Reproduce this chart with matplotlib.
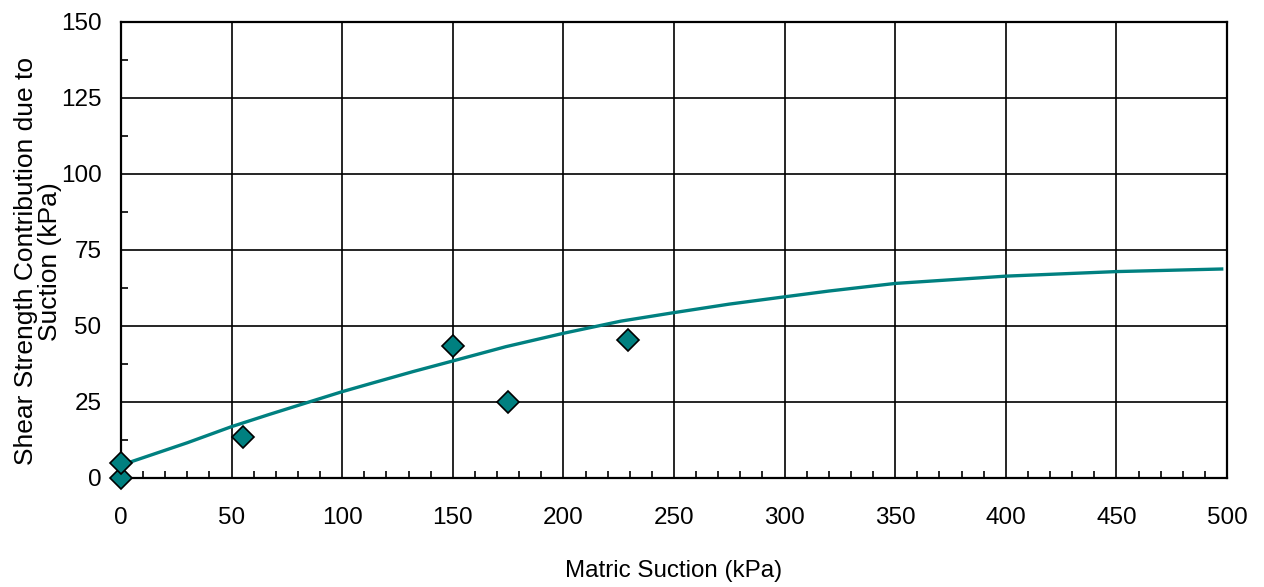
import matplotlib
matplotlib.use("Agg")
import matplotlib.pyplot as plt
from matplotlib.ticker import MultipleLocator

plt.rcParams['font.family'] = ['Liberation Sans', 'DejaVu Sans']

# Measured data points
meas_x = [0, 0, 55, 150, 175, 229]
meas_y = [0, 5, 13.5, 43.5, 25, 45.5]

# Fitted curve
curve_x = [4.8, 30, 50, 67, 85, 100, 113, 132, 150, 174, 200, 226, 250, 275,
           300, 320, 350, 400, 450, 497.6]
curve_y = [5.4, 11.6, 16.9, 20.9, 25.0, 28.4, 31.1, 35.0, 38.5, 43.2, 47.6,
           51.6, 54.4, 57.2, 59.6, 61.5, 64.0, 66.4, 67.9, 68.75]

x_ticks = [0, 50, 100, 150, 200, 250, 300, 350, 400, 450, 500]
y_ticks = [0, 25, 50, 75, 100, 125, 150]

teal = '#008080'

fig = plt.figure(figsize=(12.64, 5.87), dpi=100)
ax = fig.add_axes([121/1264, 1 - 478/587, (1227-121)/1264, (478-22)/587])

ax.plot(curve_x, curve_y, color=teal, lw=2.4, zorder=3, clip_on=False,
        solid_joinstyle='round')
ax.plot(meas_x, meas_y, linestyle='none', marker='D', markersize=11,
        markerfacecolor=teal, markeredgecolor='black', markeredgewidth=1.2,
        zorder=4, clip_on=False)

ax.set_xlim(0, 500)
ax.set_ylim(0, 150)
ax.set_xticks(x_ticks)
ax.set_yticks(y_ticks)
ax.xaxis.set_minor_locator(MultipleLocator(10))
ax.yaxis.set_minor_locator(MultipleLocator(12.5))

ax.grid(True, which='major', color='black', lw=1.2)
ax.set_axisbelow(True)
for s in ax.spines.values():
    s.set_linewidth(1.6)
    s.set_color('black')

ax.tick_params(which='major', direction='in', length=0, labelsize=17.5)
ax.tick_params(axis='x', which='major', pad=21)
ax.tick_params(axis='y', which='major', pad=14)
ax.tick_params(which='minor', direction='in', length=5, width=1.2, color='black')

ax.set_xlabel('Matric Suction (kPa)', fontsize=17.4, labelpad=22)
ax.set_ylabel('Shear Strength Contribution due to\nSuction (kPa)', fontsize=19,
              multialignment='center', linespacing=1.0)
ax.yaxis.set_label_coords(-0.053, 0.475)

fig.savefig('out.png', dpi=100)
